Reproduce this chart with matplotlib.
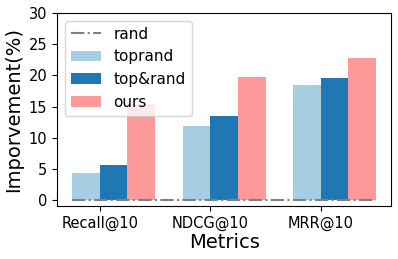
import numpy as np
import matplotlib
matplotlib.use('Agg')
import matplotlib.pyplot as plt

metrics = ['Recall@10', 'NDCG@10', 'MRR@10']
rand = [0.0, 0.0, 0.0]
toprand = [4.3, 11.95, 18.4]
top_rand = [5.7, 13.5, 19.55]
ours = [15.35, 19.7, 22.75]

x = np.arange(len(metrics))
w = 0.25

fig, ax = plt.subplots(figsize=(3.98, 2.59), dpi=100)
ax.bar(x - w, toprand, w, align='edge', color='#a6cee3', label='toprand')
ax.bar(x, top_rand, w, align='edge', color='#1f78b4', label='top&rand')
ax.bar(x + w, ours, w, align='edge', color='#fb9a99', label='ours')
# rand baseline spans the bar groups
xs = np.concatenate([[x[0] - w], x[1:-1], [x[-1] + 2 * w]])
ax.plot(xs, rand, color='grey', linestyle='-.', linewidth=1.5, label='rand')

ax.set_xticks(x)
ax.set_xticklabels(metrics, fontsize=10.5)
ax.tick_params(axis='y', labelsize=10.5)
ax.set_yticks([0, 5, 10, 15, 20, 25, 30])
ax.set_ylim(-1, 30)
ax.set_xlabel('Metrics', fontsize=14, labelpad=1)
ax.set_ylabel('Imporvement(%)', fontsize=14)

ax.legend(loc='upper left', fontsize=11)

plt.subplots_adjust(left=0.143, right=0.983, top=0.95, bottom=0.203)
plt.savefig('out.png')
